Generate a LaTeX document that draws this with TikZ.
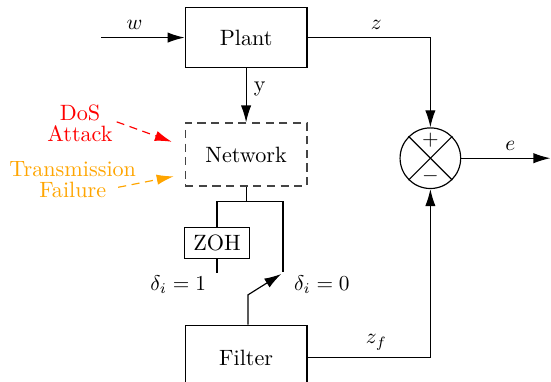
\documentclass[tikz,border=0pt]{standalone}
\usepackage{xcolor}
\definecolor{dosred}{HTML}{FF0000}
\definecolor{failorange}{HTML}{FFA500}
\definecolor{netgray}{HTML}{444444}
\usepackage{amsmath,amssymb}
\usepackage{tikz}
\usetikzlibrary{arrows.meta,positioning,calc}

\begin{document}
\begin{tikzpicture}[
    >=Latex,
    line width=0.55pt,
    every node/.style={font=\fontsize{10.4pt}{9.8pt}\selectfont, align=center},
    long_dash/.style={dash pattern=on 3.8pt off 2.6pt},
    sys_box/.style={draw, minimum width=2.01cm, minimum height=1.0cm},
    net_box/.style={draw=netgray, long_dash, minimum width=2.01cm, minimum height=1.04cm},
    hold_box/.style={draw, minimum width=1.07cm, minimum height=0.5cm},
    sum_node/.style={draw, circle, minimum size=1.0cm, inner sep=0pt},
    sig_flow/.style={-{Latex[length=2.8mm, width=1.7mm]}},
    dos_flow/.style={-{Latex[length=2.8mm, width=1.7mm]}, dosred, long_dash},
    fail_flow/.style={-{Latex[length=2.8mm, width=1.7mm]}, failorange, long_dash}
]
  \useasboundingbox (0,0) rectangle (9.09,-6.30);

  % Loop Blocks
  \node[sys_box] (plant) at (4.06,-0.62) {Plant};
  \node[net_box, below=0.89cm of plant] (network) {Network};
  \node[hold_box] (zoh) at (3.58,-4.01) {ZOH};
  \node[sys_box, minimum height=1.07cm] (filter) at (4.06,-5.90) {Filter};
  \node[sum_node] (sum) at (7.10,-2.61) {};
  \node (plus) at ($(sum.center)+(0,0.30)$) {$+$};
  \node (minus) at ($(sum.center)+(0,-0.30)$) {$-$};
  \draw (sum.north east) -- (sum.south west);
  \draw (sum.north west) -- (sum.south east);

  % Disturbance Labels
  \node[text=dosred] (dos) at (1.32,-2.04) {DoS\\Attack};
  \node[text=failorange] (fail) at (1.20,-2.96) {Transmission\\Failure};

  % Switch Labels
  \node (delta_one) at (2.94,-4.69) {$\delta_i = 1$};
  \node (delta_zero) at (5.31,-4.69) {$\delta_i = 0$};

  % Free Ends
  \coordinate (w_in) at (1.67,-0.62);
  \coordinate (e_out) at (9.08,-2.61);
  \coordinate (split) at ($(network.south)+(0,-0.25)$);
  \coordinate (sw_open) at (4.67,-4.49);
  \coordinate (sw_tip) at (4.64,-4.52);
  \coordinate (zoh_out) at ($(zoh.south)+(0,-0.24)$);

  % Connecting Flows
  \draw[sig_flow] (w_in) -- node[pos=0.4, above]{$w$} (plant.west);
  \draw[sig_flow] (plant.south) -- node[pos=0.38, right]{y} (network.north);
  \draw[sig_flow] (plant.east) -| node[pos=0.28, above]{$z$} (sum.north);
  \draw[sig_flow] (filter.east) -| node[pos=0.28, above]{$z_f$} (sum.south);
  \draw[sig_flow] (sum.east) -- node[pos=0.55, above]{$e$} (e_out);

  \draw[dos_flow] ($(dos.east)+(-0.06,0.03)$) -- ($(network.west)+(-0.21,0.21)$);
  \draw[fail_flow] ($(fail.center)+(0.75,-0.13)$) -- ($(network.west)+(-0.18,-0.36)$);

  \draw (network.south) -- (split);
  \draw (zoh.north) |- (split) -| (sw_open);
  \draw (zoh.south) -- (zoh_out);
  \draw[sig_flow] ($(filter.north)+(0.03,0)$) -- ++(0,0.49) -- (sw_tip);

\end{tikzpicture}
\end{document}
